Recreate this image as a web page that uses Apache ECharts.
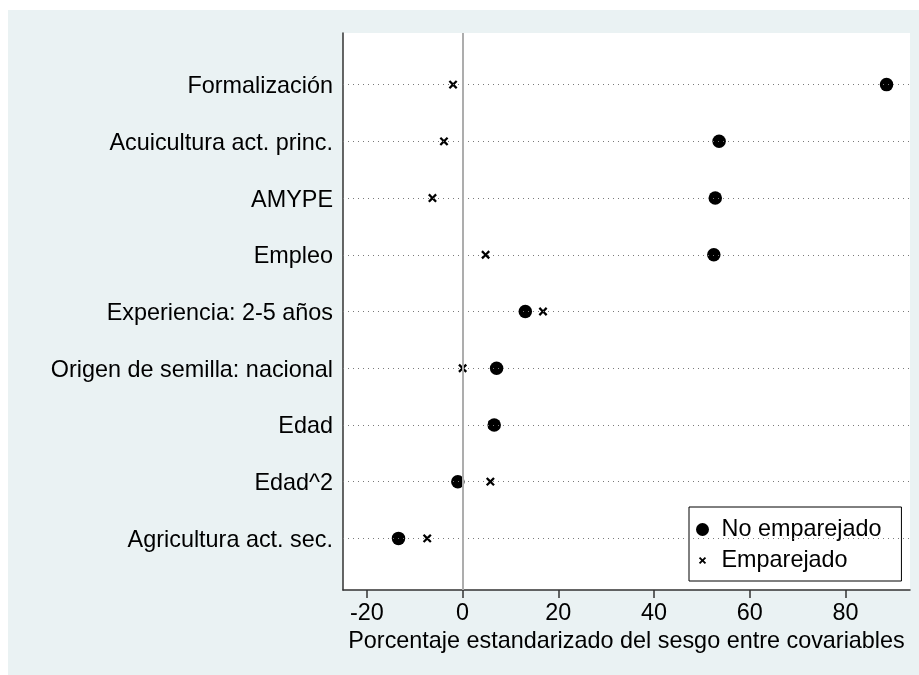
<!DOCTYPE html>
<html>
<head>
<meta charset="utf-8">
<script src="https://cdn.jsdelivr.net/npm/echarts@6/dist/echarts.min.js"></script>
<style>
  html, body { margin: 0; padding: 0; background: #ffffff; }
  #bg { position: absolute; left: 8px; top: 10px; width: 911px; height: 665px; background: #eaf2f3; }
  #chart { position: absolute; left: 0; top: 0; width: 919px; height: 675px; }
</style>
</head>
<body>
<div id="bg"></div>
<div id="chart"></div>
<script>
const categories = [
  'Formalización',
  'Acuicultura act. princ.',
  'AMYPE',
  'Empleo',
  'Experiencia: 2-5 años',
  'Origen de semilla: nacional',
  'Edad',
  'Edad^2',
  'Agricultura act. sec.'
];
const noEmparejado = [88.6, 53.6, 52.8, 52.5, 13.1, 7.1, 6.6, -1.0, -13.4];
const emparejado = [-2.0, -3.9, -6.3, 4.8, 16.8, 0.0, 6.2, 5.8, -7.4];
const xTicks = [-20, 0, 20, 40, 60, 80];
const seriesNames = ['No emparejado', 'Emparejado'];
const xTitle = 'Porcentaje estandarizado del sesgo entre covariables';

const rowPos = categories.map((c, i) => i + 1);
const font = "'Liberation Sans', Arial, sans-serif";
const fs = 23.4;
const crossPath = 'path://M-4,-4L-4,-4Z M14,14L14,14Z M0,1.8L1.8,0L5,3.2L8.2,0L10,1.8L6.8,5L10,8.2L8.2,10L5,6.8L1.8,10L0,8.2L3.2,5Z';

const chart = echarts.init(document.getElementById('chart'), null, { renderer: 'canvas' });
chart.setOption({
  backgroundColor: 'transparent',
  animation: false,
  textStyle: { fontFamily: font },
  grid: {
    left: 343, right: 9, top: 33, bottom: 85,
    show: true, backgroundColor: '#ffffff', borderWidth: 0
  },
  xAxis: {
    type: 'value',
    min: -25, max: 93.5,
    name: xTitle,
    nameLocation: 'middle',
    nameGap: 40,
    nameTextStyle: { fontSize: fs, color: '#000', fontFamily: font },
    axisLine: { show: true, onZero: false, lineStyle: { color: '#333', width: 1.5 } },
    axisTick: { show: true, customValues: xTicks, length: 8, lineStyle: { color: '#333', width: 1.5 } },
    axisLabel: { customValues: xTicks, fontSize: fs, color: '#000', margin: 12, fontFamily: font },
    splitLine: { show: false }
  },
  yAxis: {
    type: 'value',
    inverse: true,
    min: 0.09, max: 9.91,
    axisLine: { show: true, onZero: false, lineStyle: { color: '#333', width: 1.5 } },
    axisTick: { show: false },
    axisLabel: {
      customValues: rowPos,
      fontSize: fs, color: '#000', margin: 10, fontFamily: font,
      verticalAlign: 'top',
      lineHeight: 4,
      formatter: v => categories[Math.round(v) - 1] || ''
    },
    splitLine: { show: false }
  },
  legend: {
    data: [
      { name: seriesNames[0], icon: 'circle' },
      { name: seriesNames[1], icon: crossPath }
    ],
    orient: 'vertical',
    left: 689, top: 507,
    backgroundColor: '#ffffff',
    borderColor: '#000',
    borderWidth: 1,
    borderRadius: 0,
    padding: [11, 20, 9, 7],
    itemGap: 8,
    itemWidth: 28,
    itemHeight: 13,
    textStyle: { fontSize: fs, color: '#000', fontFamily: font },
    selectedMode: false
  },
  series: [
    {
      name: 'guides',
      type: 'scatter',
      data: [],
      z: 1,
      markLine: {
        silent: true,
        symbol: ['none', 'none'],
        label: { show: false },
        animation: false,
        data: rowPos.map(p => ({ yAxis: p, lineStyle: { color: '#7a7a7a', width: 1, type: [1, 4] } }))
          .concat([{ xAxis: 0, lineStyle: { color: '#adadad', width: 2, type: 'solid' } }])
      }
    },
    {
      name: seriesNames[1],
      type: 'scatter',
      z: 3,
      symbol: crossPath,
      symbolSize: 16,
      itemStyle: { color: '#000', opacity: 1 },
      data: emparejado.map((v, i) => [v, rowPos[i]])
    },
    {
      name: seriesNames[0],
      type: 'scatter',
      z: 4,
      symbol: 'circle',
      symbolSize: 13.5,
      itemStyle: { color: '#000', opacity: 1 },
      data: noEmparejado.map((v, i) => [v, rowPos[i]])
    }
  ]
});
</script>
</body>
</html>
